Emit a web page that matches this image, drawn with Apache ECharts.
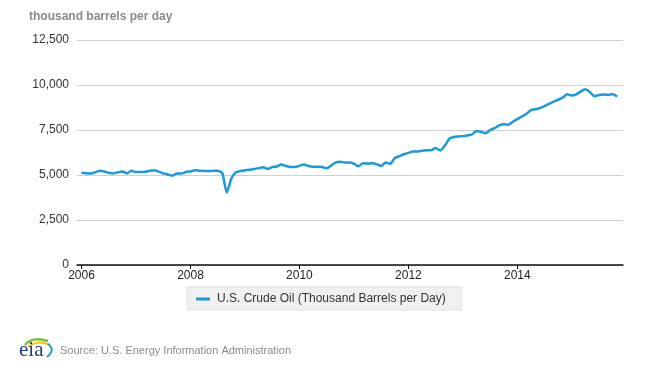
<!DOCTYPE html>
<html>
<head>
<meta charset="utf-8">
<script src="https://cdn.jsdelivr.net/npm/echarts@6/dist/echarts.min.js"></script>
<style>
html,body{margin:0;padding:0;background:#fff;}
#chart{width:650px;height:367px;}
</style>
</head>
<body>
<div id="chart"></div>
<script>
// Monthly U.S. crude oil production, Jan 2006 - Nov 2015 (thousand barrels per day)
const startYear = 2006;
const crudeOil = [
  // 2006
  5130, 5100, 5090, 5150, 5230, 5190, 5120, 5090, 5150, 5200, 5090, 5240,
  // 2007
  5160, 5160, 5180, 5230, 5270, 5190, 5090, 5030, 4960, 5090, 5080, 5170,
  // 2008
  5200, 5260, 5240, 5220, 5220, 5230, 5240, 5110, 4030, 4800, 5150, 5220,
  // 2009
  5260, 5290, 5330, 5380, 5430, 5330, 5440, 5470, 5590, 5500, 5450, 5440,
  // 2010
  5510, 5590, 5500, 5460, 5460, 5440, 5370, 5530, 5700, 5730, 5700, 5700,
  // 2011
  5630, 5480, 5650, 5640, 5650, 5600, 5500, 5700, 5620, 5940, 6050, 6150,
  // 2012
  6230, 6300, 6300, 6350, 6380, 6380, 6500, 6360, 6620, 7000, 7110, 7140,
  // 2013
  7160, 7200, 7250, 7450, 7400, 7320, 7500, 7600, 7760, 7820, 7790, 7960,
  // 2014
  8100, 8250, 8400, 8610, 8650, 8720, 8830, 8950, 9080, 9180, 9300, 9480,
  // 2015
  9420, 9480, 9650, 9760, 9600, 9380, 9450, 9470, 9460, 9480, 9370
];
const yearTicks = [2006, 2008, 2010, 2012, 2014];
const yTicks = [0, 2500, 5000, 7500, 10000, 12500];
const unitLabel = 'thousand barrels per day';
const seriesName = 'U.S. Crude Oil (Thousand Barrels per Day)';
const sourceText = 'Source: U.S. Energy Information Administration';

const seriesData = crudeOil.map((v, i) => [startYear + i / 12, v]);
const FONT = 'Arial, "Liberation Sans", sans-serif';

const chart = echarts.init(document.getElementById('chart'), null, {renderer: 'canvas'});
chart.setOption({
  animation: false,
  backgroundColor: '#fff',
  textStyle: {fontFamily: FONT},
  title: {
    text: unitLabel,
    left: 24, top: 6,
    textStyle: {fontFamily: FONT, fontSize: 12, fontWeight: 'bold', color: '#8a8a8a'}
  },
  grid: {left: 77, right: 27, top: 40, bottom: 102, containLabel: false},
  xAxis: {
    type: 'value',
    min: 2006 - 1/12,
    max: 2015.94,
    axisLine: {show: true, lineStyle: {color: '#111', width: 1.5}},
    axisTick: {show: true, customValues: yearTicks, length: 4, lineStyle: {color: '#111'}},
    axisLabel: {
      customValues: yearTicks, color: '#222', fontSize: 12, fontFamily: FONT, margin: 5,
      formatter: v => String(Math.round(v))
    },
    splitLine: {show: false}
  },
  yAxis: {
    type: 'value',
    min: yTicks[0], max: yTicks[yTicks.length - 1], interval: 2500,
    axisLine: {show: false},
    axisTick: {show: false},
    axisLabel: {
      color: '#333', fontSize: 12, fontFamily: FONT, margin: 8,
      formatter: v => v.toLocaleString('en-US')
    },
    splitLine: {show: true, lineStyle: {color: '#cfcfcf', width: 1}}
  },
  legend: {
    show: true,
    left: 187, top: 287,
    backgroundColor: '#f0f0f0',
    borderColor: '#e2e2e2', borderWidth: 1,
    padding: [6, 16, 5, 9],
    icon: 'rect', itemWidth: 14, itemHeight: 3, itemGap: 7,
    textStyle: {fontSize: 12, color: '#333', fontFamily: FONT, padding: [0, 0, 0, 2]},
    data: [seriesName]
  },
  series: [{
    name: seriesName,
    type: 'line',
    data: seriesData,
    showSymbol: false,
    smooth: 0.2,
    lineStyle: {color: '#1a9ad8', width: 2.5},
    itemStyle: {color: '#1a9ad8'}
  }],
  graphic: [
    {type: 'bezierCurve', shape: {x1: 25, y1: 345, cpx1: 32, cpy1: 336, x2: 48, y2: 341}, style: {stroke: '#7dbb42', lineWidth: 2.5, fill: null}},
    {type: 'bezierCurve', shape: {x1: 28, y1: 347, cpx1: 38, cpy1: 339, x2: 50, y2: 345}, style: {stroke: '#f2c200', lineWidth: 2, fill: null}},
    {type: 'bezierCurve', shape: {x1: 48, y1: 344, cpx1: 56, cpy1: 350, x2: 47, y2: 357}, style: {stroke: '#1a9ad8', lineWidth: 2, fill: null}},
    {type: 'text', left: 19, top: 340, style: {text: 'eia', fontFamily: '"Liberation Serif", "DejaVu Serif", serif', fontSize: 21, fill: '#1f3d7a'}},
    {type: 'text', left: 60, top: 345, style: {text: sourceText, fontFamily: FONT, fontSize: 11, fill: '#8a8a8a'}}
  ]
});
</script>
</body>
</html>
